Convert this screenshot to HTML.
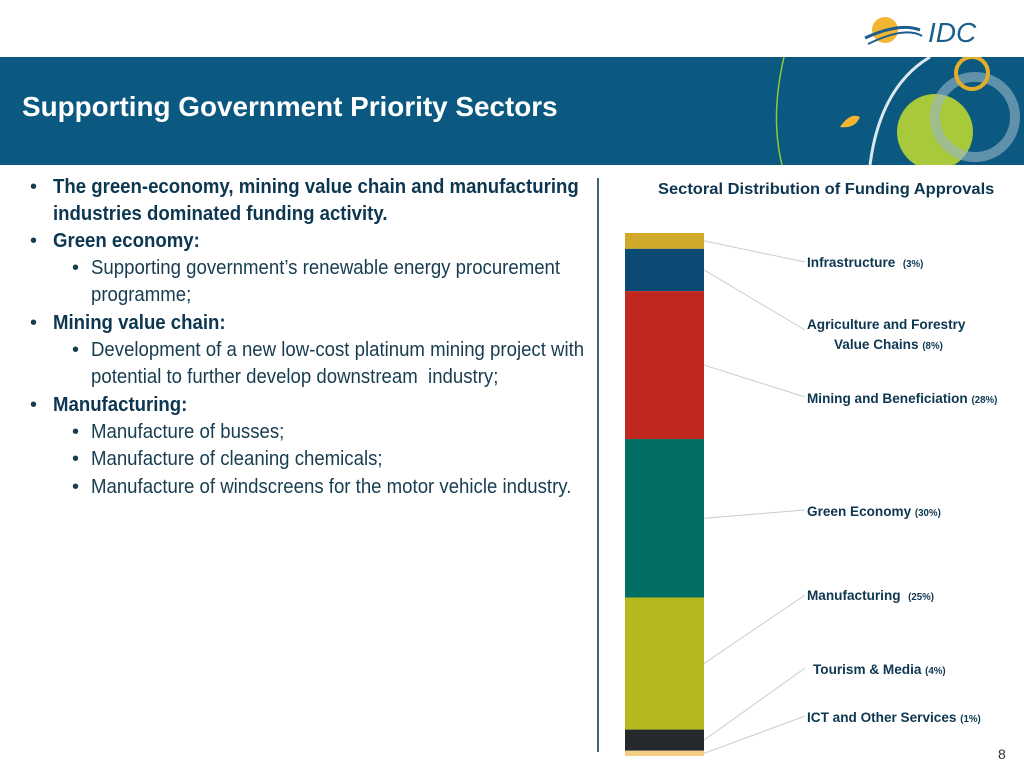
<!DOCTYPE html>
<html><head><meta charset="utf-8"><style>
body{margin:0;width:1024px;height:768px;position:relative;background:#fff;overflow:hidden;font-family:"Liberation Sans",sans-serif}
.band{position:absolute;left:0;top:57px;width:1024px;height:108px;background:#0b5880}
.title{position:absolute;left:22px;top:91px;color:#fff;font-weight:bold;font-size:28px;transform:scaleX(0.995);transform-origin:left;white-space:nowrap}
.txt{position:absolute;left:0;top:0;color:#173d50;font-size:20px;white-space:nowrap;transform:scaleX(0.93);transform-origin:left}
.bul{position:absolute;color:#173d50;font-size:20px}
.b{font-weight:bold;color:#0d3650}
.lbl{position:absolute;font-size:14px;font-weight:bold;color:#0d3650;white-space:nowrap;transform:scaleX(0.97);transform-origin:left}
.lbl small{font-size:10px}
</style></head><body>
<svg style="position:absolute;left:860px;top:12px" width="130" height="40">
<circle cx="25" cy="18" r="13" fill="#f2b632"/>
<path d="M5 26 Q40 10 60 18" stroke="#1c5f8c" stroke-width="3" fill="none"/>
<path d="M8 32 Q45 14 62 24" stroke="#1c5f8c" stroke-width="2" fill="none"/>
<text x="68" y="30" font-family="Liberation Sans" font-style="italic" font-size="28" fill="#1c5f8c">IDC</text>
</svg>
<div class="band">
<svg width="1024" height="108" style="position:absolute;left:0;top:0">
<path d="M784 0 Q770 60 782 108" stroke="#8fc640" stroke-width="1.5" fill="none"/>
<circle cx="935" cy="75" r="38" fill="#a8c93a"/>
<circle cx="975" cy="60" r="40" fill="none" stroke="#9ab8c8" stroke-width="10" opacity="0.6"/>
<circle cx="972" cy="16" r="16" fill="none" stroke="#e2ad2a" stroke-width="4"/>
<path d="M870 108 Q880 30 930 0" stroke="#dce8ef" stroke-width="3" fill="none"/>
<path d="M840 70 Q850 55 860 60 Q855 72 840 70" fill="#f2b632"/>
</svg>
</div>
<div class="title">Supporting Government Priority Sectors</div>
<div>
<div class="bul" style="left:30px;top:176px">•</div>
<div class="txt b" style="left:53px;top:176px">The green-economy, mining value chain and manufacturing</div>
<div class="txt b" style="left:53px;top:203px">industries dominated funding activity.</div>
<div class="bul" style="left:30px;top:230px">•</div>
<div class="txt b" style="left:53px;top:230px">Green economy:</div>
<div class="bul" style="left:72px;top:257px">•</div>
<div class="txt" style="left:91px;top:257px">Supporting government’s renewable energy procurement</div>
<div class="txt" style="left:91px;top:284px">programme;</div>
<div class="bul" style="left:30px;top:312px">•</div>
<div class="txt b" style="left:53px;top:312px">Mining value chain:</div>
<div class="bul" style="left:72px;top:339px">•</div>
<div class="txt" style="left:91px;top:339px">Development of a new low-cost platinum mining project with</div>
<div class="txt" style="left:91px;top:366px">potential to further develop downstream&nbsp; industry;</div>
<div class="bul" style="left:30px;top:394px">•</div>
<div class="txt b" style="left:53px;top:394px">Manufacturing:</div>
<div class="bul" style="left:72px;top:421px">•</div>
<div class="txt" style="left:91px;top:421px">Manufacture of busses;</div>
<div class="bul" style="left:72px;top:448px">•</div>
<div class="txt" style="left:91px;top:448px">Manufacture of cleaning chemicals;</div>
<div class="bul" style="left:72px;top:476px">•</div>
<div class="txt" style="left:91px;top:476px">Manufacture of windscreens for the motor vehicle industry.</div>
</div>
<div style="position:absolute;left:597px;top:178px;width:2px;height:574px;background:#3f6373"></div>
<div class="lbl" style="left:658px;top:181px;font-size:16px;transform:scaleX(1.03)">Sectoral Distribution of Funding Approvals</div>
<svg id="chart" width="1024" height="768" style="position:absolute;left:0;top:0"></svg>
<div class="lbl" style="left:807px;top:254px">Infrastructure&nbsp; <small>(3%)</small></div>
<div class="lbl" style="left:807px;top:316px">Agriculture and Forestry</div>
<div class="lbl" style="left:834px;top:336px">Value Chains <small>(8%)</small></div>
<div class="lbl" style="left:807px;top:390px">Mining and Beneficiation <small>(28%)</small></div>
<div class="lbl" style="left:807px;top:503px">Green Economy <small>(30%)</small></div>
<div class="lbl" style="left:807px;top:587px">Manufacturing&nbsp; <small>(25%)</small></div>
<div class="lbl" style="left:813px;top:661px">Tourism &amp; Media <small>(4%)</small></div>
<div class="lbl" style="left:807px;top:709px">ICT and Other Services <small>(1%)</small></div>
<div style="position:absolute;left:998px;top:746px;font-size:14px;color:#333">8</div>
<script>
const categories=["Infrastructure","Agriculture and Forestry","Mining and Beneficiation","Green Economy","Manufacturing","Tourism & Media","ICT and Other Services"];
const values=[3,8,28,30,25,4,1];
const colors=["#d0a92a","#0b4a72","#c0271f","#006e63","#b5b91f","#25292c","#f3cf86"];
const labelY=[262,330,397,510,595,668,716];
const svg=document.getElementById('chart');
const NS="http://www.w3.org/2000/svg";
const top0=233,bottom0=756,barX=625,barW=79;
const total=values.reduce((a,b)=>a+b,0);
const yScale=v=>v*(bottom0-top0)/total;
let y=top0;
values.forEach((v,i)=>{
  const h=yScale(v);
  const r=document.createElementNS(NS,'rect');
  r.setAttribute('x',barX);r.setAttribute('y',y);r.setAttribute('width',barW);r.setAttribute('height',h);r.setAttribute('fill',colors[i]);
  
  
  svg.appendChild(r);
  const l=document.createElementNS(NS,'line');
  l.setAttribute('x1',barX+barW);l.setAttribute('y1',y+h/2);l.setAttribute('x2',805);l.setAttribute('y2',labelY[i]);
  l.setAttribute('stroke','#c8cdd0');l.setAttribute('stroke-width','1');
  
  
  svg.appendChild(l);
  y+=h;
});
</script>
</body></html>
